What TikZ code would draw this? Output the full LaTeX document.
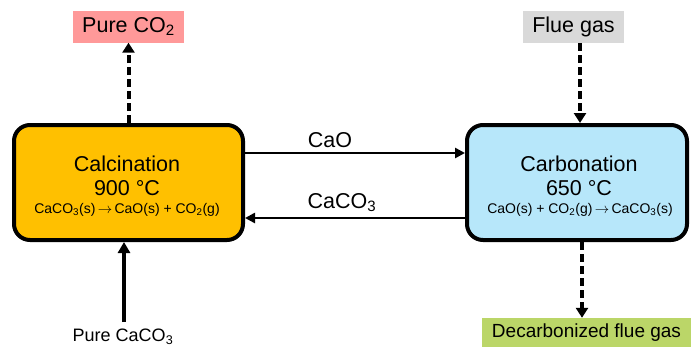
\documentclass[tikz,border=0pt]{standalone}
\usepackage{fontspec}
\setmainfont{Liberation Sans}
\usetikzlibrary{arrows.meta}
\definecolor{calcfill}{RGB}{255,192,0}
\definecolor{carbfill}{RGB}{183,231,250}
\definecolor{pinkfill}{RGB}{255,153,153}
\definecolor{grayfill}{RGB}{217,217,217}
\definecolor{greenfill}{RGB}{187,214,104}
\newcommand{\rarr}{\,$\rightarrow$\,}
\tikzset{
  x=1pt, y=-1pt,
  reactor/.style={draw, line width=4pt, rounded corners=16pt, inner sep=0pt},
  bigtxt/.style={font=\fontsize{21.5}{23}\selectfont, inner sep=0pt},
  eqtxt/.style={font=\fontsize{14}{16}\selectfont, inner sep=0pt},
  tag/.style={font=\fontsize{21.5}{23}\selectfont, inner sep=0pt, minimum height=32pt},
  flowarrow/.style={line width=2.5pt, -{Triangle[length=10pt,width=10pt]}},
  feedarrow/.style={line width=3.5pt, -{Triangle[length=11pt,width=12pt]}},
  gasarrow/.style={line width=4pt, dash pattern=on 8pt off 4pt, -{Triangle[length=10pt,width=12pt]}}
}
\begin{document}
\begin{tikzpicture}
\useasboundingbox (0,0) rectangle (691,349);
% reactors
\node[reactor, fill=calcfill, minimum width=229pt, minimum height=115pt] (calc) at (128.5,182.5) {};
\node[reactor, fill=carbfill, minimum width=220pt, minimum height=115pt] (carb) at (577,182.5) {};
% reactor texts
\node[bigtxt] (calcT) at (127,164) {Calcination};
\node[bigtxt, text depth=0pt, anchor=base] (calcC) at (127,195.5) {900 °C};
\node[eqtxt] (calcE) at (127,210) {CaCO\textsubscript{3}(s)\rarr CaO(s) + CO\textsubscript{2}(g)};
\node[bigtxt] (carbT) at (579,164) {Carbonation};
\node[bigtxt, text depth=0pt, anchor=base] (carbC) at (579,195.5) {650 °C};
\node[eqtxt] (carbE) at (580,210) {CaO(s) + CO\textsubscript{2}(g)\rarr CaCO\textsubscript{3}(s)};
% stream tags
\node[tag, fill=pinkfill, minimum width=111pt] (pco2) at (128.5,26.5) {Pure CO\textsubscript{2}};
\node[tag, fill=grayfill, minimum width=101pt] (flue) at (573.5,27) {Flue gas};
\node[tag, fill=greenfill, minimum width=209pt, minimum height=29pt, font=\fontsize{19}{21}\selectfont] (decarb) at (586.5,332.5) {Decarbonized flue gas};
\node[font=\fontsize{18}{20}\selectfont, inner sep=0pt] (caco3) at (123,337) {Pure CaCO\textsubscript{3}};
% solid flows
\draw[flowarrow] ([yshift=29.5pt]calc.east) -- node[bigtxt, above=4pt, xshift=-25pt] (caoL) {CaO} ([yshift=29.5pt]carb.west);
\draw[flowarrow] ([yshift=-35.5pt]carb.west) -- node[bigtxt, above=5pt, xshift=-13pt] (caco3L) {CaCO\textsubscript{3}} ([yshift=-35.5pt]calc.east);
\draw[feedarrow] ([xshift=1pt,yshift=7pt]caco3.north) -- ([xshift=1pt]caco3.north |- calc.south);
% gas flows
\draw[gasarrow] (calc.north) -- (pco2.south);
\draw[gasarrow] ([xshift=3pt]carb.north |- flue.south) -- ([xshift=3pt]carb.north);
\draw[gasarrow] ([xshift=5pt]carb.south) -- ([xshift=5pt]carb.south |- decarb.north);
\end{tikzpicture}
\end{document}
